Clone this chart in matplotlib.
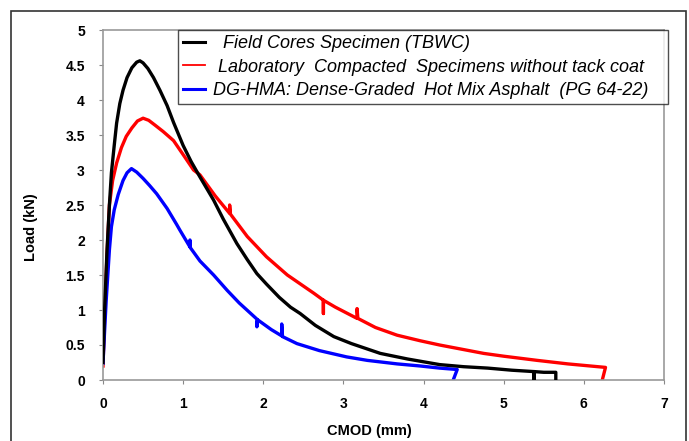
"""
Load vs CMOD curves for field cores, lab-compacted specimens and DG-HMA.
"""
import matplotlib
matplotlib.use("Agg")
import matplotlib.pyplot as plt
from matplotlib.lines import Line2D
from matplotlib.patches import Rectangle

plt.rcParams["font.family"] = ["Liberation Sans", "DejaVu Sans"]

# ── data ──────────────────────────────────────────────────────────────────────
field_x = [0, 0.02, 0.05, 0.08, 0.105, 0.14, 0.17, 0.21, 0.25, 0.3, 0.36, 0.42,
           0.46, 0.5, 0.56, 0.63, 0.71, 0.8, 0.88, 1.0, 1.1, 1.21, 1.38, 1.5,
           1.67, 1.8, 1.92, 2.04, 2.2, 2.34, 2.46, 2.65, 2.88, 3.1, 3.46, 3.8,
           4.2, 4.5, 4.8, 5.1, 5.38, 5.38, 5.38, 5.5, 5.65, 5.65]
field_y = [0.25, 1.0, 1.85, 2.5, 2.96, 3.35, 3.67, 3.95, 4.14, 4.32, 4.46, 4.54,
           4.56, 4.53, 4.45, 4.32, 4.14, 3.92, 3.68, 3.35, 3.12, 2.9, 2.57, 2.3,
           1.95, 1.72, 1.52, 1.37, 1.18, 1.04, 0.95, 0.78, 0.62, 0.52, 0.38, 0.3,
           0.22, 0.19, 0.17, 0.14, 0.12, 0.0, 0.12, 0.11, 0.11, 0.0]

lab_x = [0, 0.02, 0.05, 0.08, 0.12, 0.17, 0.23, 0.29, 0.36, 0.43, 0.5, 0.57,
         0.65, 0.75, 0.88, 1.0, 1.13, 1.21, 1.4, 1.58, 1.58, 1.59, 1.8, 2.04,
         2.3, 2.63, 2.75, 2.75, 2.75, 2.9, 3.17, 3.17, 3.18, 3.4, 3.67, 3.96,
         4.2, 4.75, 5.0, 5.42, 5.8, 6.27, 6.23]
lab_y = [0.2, 0.9, 1.8, 2.5, 2.85, 3.1, 3.32, 3.48, 3.6, 3.7, 3.74, 3.71,
         3.64, 3.55, 3.42, 3.22, 3.0, 2.93, 2.63, 2.38, 2.5, 2.37, 2.05, 1.76,
         1.5, 1.24, 1.14, 0.95, 1.14, 1.04, 0.88, 1.02, 0.88, 0.75, 0.64, 0.56,
         0.5, 0.38, 0.34, 0.28, 0.23, 0.18, 0.0]

dg_x = [0, 0.02, 0.04, 0.08, 0.105, 0.14, 0.19, 0.25, 0.3, 0.355, 0.42, 0.5,
        0.58, 0.67, 0.8, 0.92, 0.96, 1.085, 1.085, 1.09, 1.21, 1.38, 1.55, 1.7,
        1.92, 1.92, 1.93, 2.1, 2.23, 2.23, 2.24, 2.42, 2.7, 3.04, 3.3, 3.67,
        3.96, 4.2, 4.42, 4.37]
dg_y = [0.24, 0.7, 1.14, 1.86, 2.19, 2.43, 2.65, 2.85, 2.96, 3.02, 2.97, 2.88,
        2.78, 2.66, 2.45, 2.22, 2.14, 1.9, 2.0, 1.89, 1.7, 1.5, 1.28, 1.1,
        0.87, 0.76, 0.86, 0.72, 0.63, 0.8, 0.62, 0.52, 0.42, 0.33, 0.28, 0.23,
        0.2, 0.17, 0.15, 0.0]

labels = ["  Field Cores Specimen (TBWC)",
          " Laboratory  Compacted  Specimens without tack coat",
          "DG-HMA: Dense-Graded  Hot Mix Asphalt  (PG 64-22)   "]
colors = ["#000000", "#ff0000", "#0000ff"]

x_ticks = [0, 1, 2, 3, 4, 5, 6, 7]
y_ticks = [0, 0.5, 1, 1.5, 2, 2.5, 3, 3.5, 4, 4.5, 5]
y_ticklabels = ["0", "0.5", "1", "1.5", "2", "2.5", "3", "3.5", "4", "4.5", "5"]

# ── plot ──────────────────────────────────────────────────────────────────────
fig = plt.figure(figsize=(6.89, 4.41), dpi=100)
ax = fig.add_axes([103 / 689, 1 - 380 / 441, 561 / 689, 350 / 441])

# outer frame around the whole figure
fig.patches.append(Rectangle((11 / 689, -0.05), 675 / 689, 1.05 - 11 / 441,
                             transform=fig.transFigure, fill=False,
                             edgecolor="#333333", lw=1.2))

ax.plot(field_x, field_y, color=colors[0], lw=2.4, zorder=3)
ax.plot(lab_x, lab_y, color=colors[1], lw=2.4, zorder=2)
ax.plot(dg_x, dg_y, color=colors[2], lw=2.4, zorder=2)

ax.set_xlim(0, 7)
ax.set_ylim(0, 5)
ax.set_xticks(x_ticks)
ax.set_yticks(y_ticks)
ax.set_yticklabels(y_ticklabels)
for lbl in ax.get_xticklabels() + ax.get_yticklabels():
    lbl.set_fontweight("bold")
    lbl.set_fontsize(10)
ax.tick_params(axis="both", length=3, width=0.8, color="#888888")
ax.tick_params(axis="x", pad=9)
ax.tick_params(axis="y", pad=10)

for s in ax.spines.values():
    s.set_color("#999999")
    s.set_linewidth(1.2)

ax.set_xlabel("CMOD (mm)", fontsize=10.5, fontweight="bold")
ax.set_ylabel("Load (kN)", fontsize=10.5, fontweight="bold")
ax.xaxis.set_label_coords((369 - 103) / 561, -(424 - 380) / 350)
ax.yaxis.set_label_coords((38 - 103) / 561, (380 - 227) / 350)

handles = [Line2D([], [], color=colors[0], lw=2.2),
           Line2D([], [], color=colors[1], lw=1.3),
           Line2D([], [], color=colors[2], lw=2.2)]
leg = ax.legend(handles, labels, loc="upper right", bbox_to_anchor=(1.007, 1.0),
                borderaxespad=0, fancybox=False, handlelength=1.2,
                handletextpad=0.45, labelspacing=0.37, borderpad=0.27,
                prop={"style": "italic", "size": 13})
leg.get_frame().set_edgecolor("#222222")
leg.get_frame().set_linewidth(1.0)

fig.savefig("out.png", dpi=100)
